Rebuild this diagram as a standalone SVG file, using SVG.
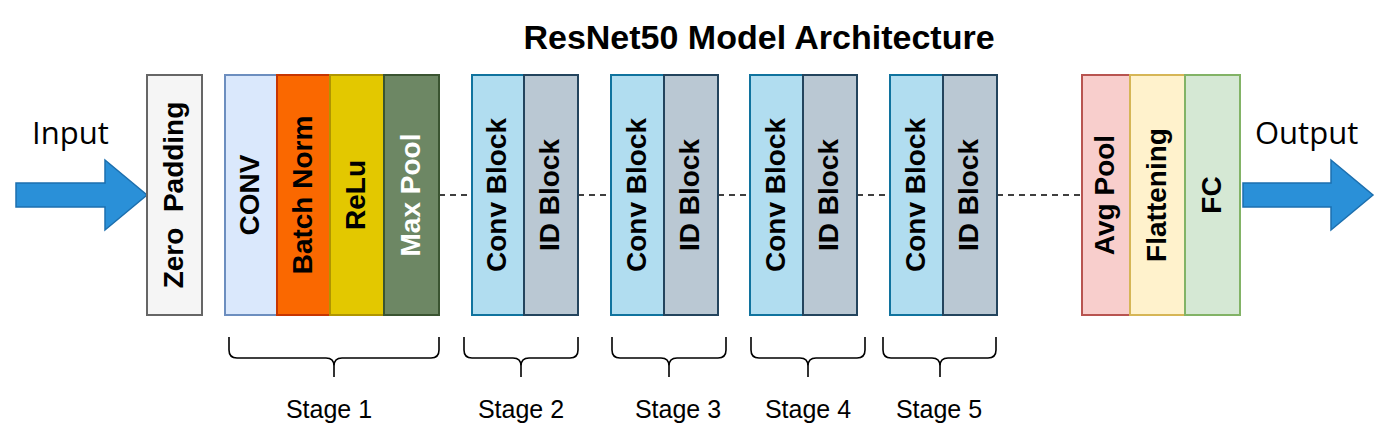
<svg xmlns="http://www.w3.org/2000/svg" width="1398" height="446" viewBox="0 0 1398 446">
<style>
.box{stroke-width:2}
.lbl{font-family:"Liberation Sans",Arial,sans-serif;font-weight:bold;font-size:28px;text-anchor:middle;fill:#000}
.io{font-family:"Open Sans","Liberation Sans",sans-serif;font-size:31px;fill:#000}
.stage{font-family:"Liberation Sans",Arial,sans-serif;font-size:25px;fill:#000;text-anchor:middle}
.arrow{fill:#2a90d8;stroke:#1c6fae;stroke-width:1.5}
.dash{stroke:#000;stroke-width:1.6;stroke-dasharray:6 5;fill:none}
.brace{stroke:#000;stroke-width:1.6;fill:none}
</style>
<rect width="1398" height="446" fill="#fff"/>
<text x="759" y="49" style="font-family:'Liberation Sans',Arial,sans-serif;font-weight:bold;font-size:34px;text-anchor:middle">ResNet50 Model Architecture</text>

<g id="connectors">
<line class="dash" x1="439" y1="195" x2="472" y2="195"/>
<line class="dash" x1="578" y1="195" x2="611" y2="195"/>
<line class="dash" x1="718" y1="195" x2="750" y2="195"/>
<line class="dash" x1="857" y1="195" x2="890" y2="195"/>
<line class="dash" x1="997" y1="195" x2="1082" y2="195"/>
</g>

<g id="input">
<text class="io" x="32" y="144">Input</text>
<path class="arrow" d="M16,183 H105 V160 L147,195 L105,230 V207 H16 Z"/>
</g>

<g id="zero-padding">
<rect class="box" x="147" y="75" width="55" height="240" fill="#f5f5f5" stroke="#666666"/>
<text class="lbl" transform="translate(174.5,195) rotate(-90)" x="0" y="8" style="white-space:pre">Zero  Padding</text>
</g>

<g id="conv">
<rect class="box" x="225" y="75" width="52" height="240" fill="#dae8fc" stroke="#6c8ebf"/>
<text class="lbl" transform="translate(251,195) rotate(-90)" x="0" y="8">CONV</text>
</g>
<g id="batch-norm">
<rect class="box" x="277" y="75" width="53" height="240" fill="#fa6800" stroke="#c73500"/>
<text class="lbl" transform="translate(303.5,195) rotate(-90)" x="0" y="8">Batch Norm</text>
</g>
<g id="relu">
<rect class="box" x="330" y="75" width="54" height="240" fill="#e3c800" stroke="#b09500"/>
<text class="lbl" transform="translate(357,195) rotate(-90)" x="0" y="8">ReLu</text>
</g>
<g id="max-pool">
<rect class="box" x="384" y="75" width="55" height="240" fill="#6d8764" stroke="#3a5431"/>
<text class="lbl" transform="translate(411.5,195) rotate(-90)" x="0" y="8" style="fill:#fff">Max Pool</text>
</g>

<g id="stage2-conv">
<rect class="box" x="472" y="75" width="52" height="240" fill="#b1ddf0" stroke="#10739e"/>
<text class="lbl" transform="translate(498,195) rotate(-90)" x="0" y="8">Conv Block</text>
</g>
<g id="stage2-id">
<rect class="box" x="524" y="75" width="54" height="240" fill="#bac8d3" stroke="#23445d"/>
<text class="lbl" transform="translate(551,195) rotate(-90)" x="0" y="8">ID Block</text>
</g>
<g id="stage3-conv">
<rect class="box" x="611" y="75" width="53" height="240" fill="#b1ddf0" stroke="#10739e"/>
<text class="lbl" transform="translate(637.5,195) rotate(-90)" x="0" y="8">Conv Block</text>
</g>
<g id="stage3-id">
<rect class="box" x="664" y="75" width="54" height="240" fill="#bac8d3" stroke="#23445d"/>
<text class="lbl" transform="translate(691,195) rotate(-90)" x="0" y="8">ID Block</text>
</g>
<g id="stage4-conv">
<rect class="box" x="750" y="75" width="53" height="240" fill="#b1ddf0" stroke="#10739e"/>
<text class="lbl" transform="translate(776.5,195) rotate(-90)" x="0" y="8">Conv Block</text>
</g>
<g id="stage4-id">
<rect class="box" x="803" y="75" width="54" height="240" fill="#bac8d3" stroke="#23445d"/>
<text class="lbl" transform="translate(830,195) rotate(-90)" x="0" y="8">ID Block</text>
</g>
<g id="stage5-conv">
<rect class="box" x="890" y="75" width="53" height="240" fill="#b1ddf0" stroke="#10739e"/>
<text class="lbl" transform="translate(916.5,195) rotate(-90)" x="0" y="8">Conv Block</text>
</g>
<g id="stage5-id">
<rect class="box" x="943" y="75" width="54" height="240" fill="#bac8d3" stroke="#23445d"/>
<text class="lbl" transform="translate(970,195) rotate(-90)" x="0" y="8">ID Block</text>
</g>

<g id="avg-pool">
<rect class="box" x="1082" y="75" width="48" height="240" fill="#f8cecc" stroke="#b85450"/>
<text class="lbl" transform="translate(1106,195) rotate(-90)" x="0" y="8">Avg Pool</text>
</g>
<g id="flattening">
<rect class="box" x="1130" y="75" width="55" height="240" fill="#fff2cc" stroke="#d6b656"/>
<text class="lbl" transform="translate(1157.5,195) rotate(-90)" x="0" y="8">Flattening</text>
</g>
<g id="fc">
<rect class="box" x="1185" y="75" width="55" height="240" fill="#d5e8d4" stroke="#82b366"/>
<text class="lbl" transform="translate(1212.5,195) rotate(-90)" x="0" y="8">FC</text>
</g>

<g id="output">
<text class="io" x="1255" y="144">Output</text>
<path class="arrow" d="M1243,183 H1331 V160 L1373,195 L1331,230 V207 H1243 Z"/>
</g>

<g id="stage1">
<path class="brace" d="M229,337 V350 Q229,358 237,358 H326 Q334,358 334,366 Q334,358 342,358 H431 Q439,358 439,350 V337 M334,366 V377"/>
<text class="stage" x="329" y="418">Stage 1</text>
</g>
<g id="stage2">
<path class="brace" d="M464,337 V350 Q464,358 472,358 H513 Q521,358 521,366 Q521,358 529,358 H570 Q578,358 578,350 V337 M521,366 V377"/>
<text class="stage" x="521" y="418">Stage 2</text>
</g>
<g id="stage3">
<path class="brace" d="M612,337 V350 Q612,358 620,358 H661 Q669,358 669,366 Q669,358 677,358 H718 Q726,358 726,350 V337 M669,366 V377"/>
<text class="stage" x="678" y="418">Stage 3</text>
</g>
<g id="stage4">
<path class="brace" d="M751,337 V350 Q751,358 759,358 H800 Q808,358 808,366 Q808,358 816,358 H857 Q865,358 865,350 V337 M808,366 V377"/>
<text class="stage" x="808" y="418">Stage 4</text>
</g>
<g id="stage5">
<path class="brace" d="M883,337 V350 Q883,358 891,358 H932 Q940,358 940,366 Q940,358 948,358 H988 Q996,358 996,350 V337 M940,366 V377"/>
<text class="stage" x="939" y="418">Stage 5</text>
</g>
</svg>
